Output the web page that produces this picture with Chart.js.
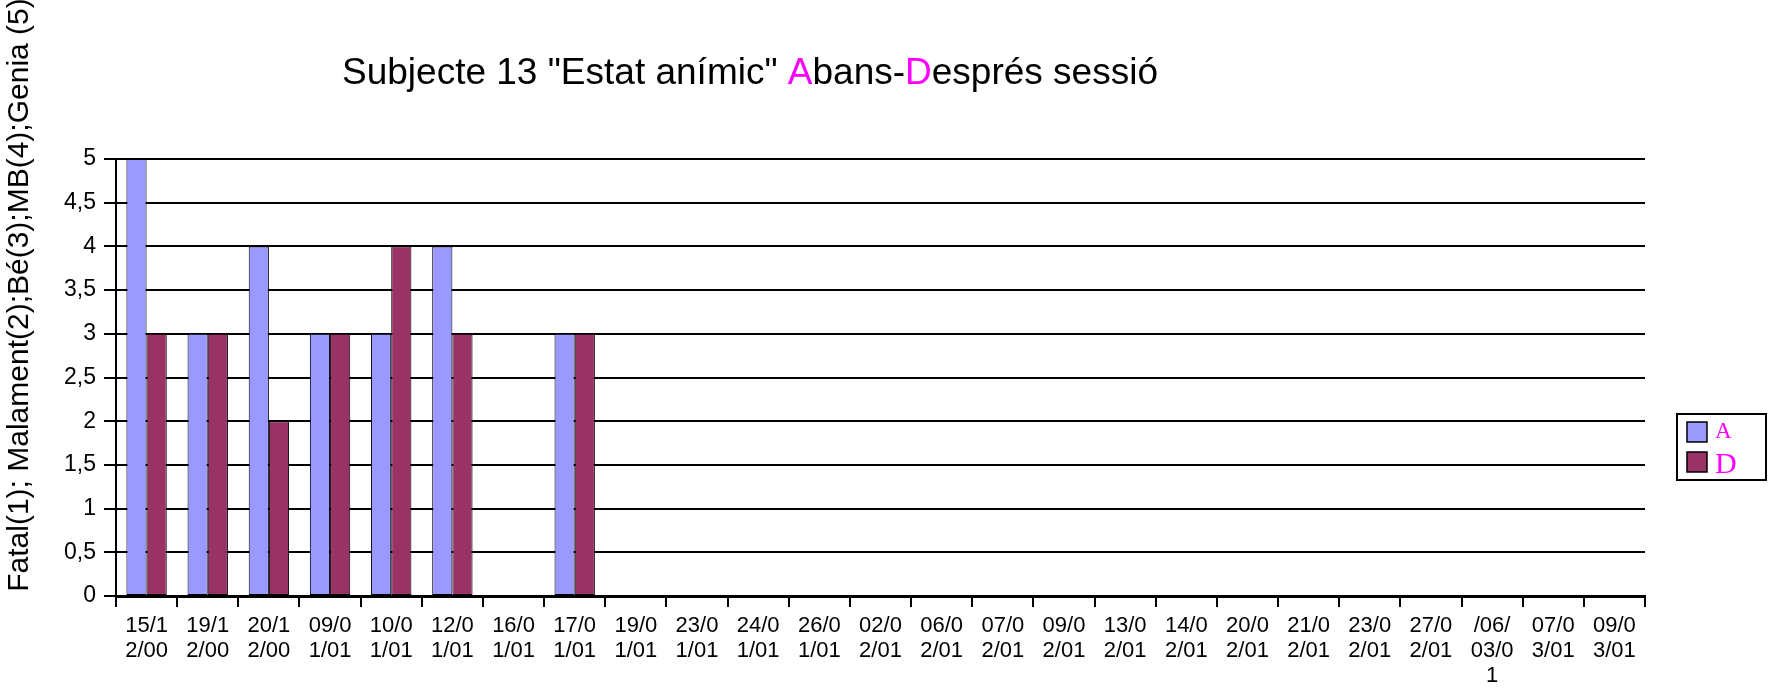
<!DOCTYPE html>
<html>
<head>
<meta charset="utf-8">
<script src="https://cdn.jsdelivr.net/npm/chart.js@4/dist/chart.umd.min.js"></script>
<style>
  html, body { margin: 0; padding: 0; background: #ffffff; }
  #wrap { width: 1769px; height: 688px; position: relative; }
</style>
</head>
<body>
<div id="wrap"><canvas id="c" width="1769" height="688"></canvas></div>
<script>
const categories = ['15/12/00','19/12/00','20/12/00','09/01/01','10/01/01','12/01/01','16/01/01','17/01/01',
  '19/01/01','23/01/01','24/01/01','26/01/01','02/02/01','06/02/01','07/02/01','09/02/01','13/02/01',
  '14/02/01','20/02/01','21/02/01','23/02/01','27/02/01','/06/03/01','07/03/01','09/03/01'];
const seriesA = [5, 3, 4, 3, 3, 4, 0, 3, 0, 0, 0, 0, 0, 0, 0, 0, 0, 0, 0, 0, 0, 0, 0, 0, 0];
const seriesD = [3, 3, 2, 3, 4, 3, 0, 3, 0, 0, 0, 0, 0, 0, 0, 0, 0, 0, 0, 0, 0, 0, 0, 0, 0];
const seriesNames = ['A', 'D'];
const yTicks = { min: 0, max: 5, step: 0.5 };
const titleParts = [
  ['Subjecte 13 "Estat anímic" ', '#000000'],
  ['A', '#FF00FF'],
  ['bans-', '#000000'],
  ['D', '#FF00FF'],
  ['esprés sessió', '#000000']
];
const yTitle = 'Fatal(1); Malament(2);Bé(3);MB(4);Genia (5)';

const SANS = '"Liberation Sans", Arial, sans-serif';
const SERIF = '"Liberation Serif", "Times New Roman", serif';

const decorPlugin = {
  id: 'decor',
  afterDraw(chart) {
    const ctx = chart.ctx;
    ctx.save();
    // Title with coloured letters
    ctx.font = '37px ' + SANS;
    ctx.textBaseline = 'alphabetic';
    ctx.textAlign = 'left';
    let total = 0;
    titleParts.forEach(p => { total += ctx.measureText(p[0]).width; });
    let x = 750 - total / 2;
    titleParts.forEach(p => {
      ctx.fillStyle = p[1];
      ctx.fillText(p[0], x, 84);
      x += ctx.measureText(p[0]).width;
    });
    // Y axis title
    ctx.save();
    ctx.translate(20, 295);
    ctx.rotate(-Math.PI / 2);
    ctx.font = '30px ' + SANS;
    ctx.fillStyle = '#000000';
    ctx.textAlign = 'center';
    ctx.textBaseline = 'middle';
    ctx.fillText(yTitle, 0, 0);
    ctx.restore();
    // Legend
    ctx.lineWidth = 2;
    ctx.strokeStyle = '#000000';
    ctx.fillStyle = '#ffffff';
    ctx.fillRect(1677, 414, 89, 66);
    ctx.strokeRect(1677, 414, 89, 66);
    const sizes = [23, 30];
    const baselines = [438, 473];
    chart.data.datasets.forEach((ds, i) => {
      const sy = 422 + i * 30;
      ctx.fillStyle = ds.backgroundColor;
      ctx.fillRect(1687, sy, 20, 20);
      ctx.lineWidth = 1.5;
      ctx.strokeRect(1687, sy, 20, 20);
      ctx.fillStyle = '#FF00FF';
      ctx.font = sizes[i] + 'px ' + SERIF;
      ctx.textAlign = 'left';
      ctx.textBaseline = 'alphabetic';
      ctx.fillText(ds.label, 1715, baselines[i]);
    });
    ctx.restore();
  }
};

new Chart(document.getElementById('c'), {
  type: 'bar',
  data: {
    labels: categories,
    datasets: [
      { label: seriesNames[0], data: seriesA, backgroundColor: '#9999FF', borderColor: '#000000', borderWidth: 1, borderSkipped: false },
      { label: seriesNames[1], data: seriesD, backgroundColor: '#993366', borderColor: '#000000', borderWidth: 1, borderSkipped: false }
    ]
  },
  options: {
    responsive: false,
    animation: false,
    devicePixelRatio: 1,
    layout: { padding: { left: 0, top: 159, right: 124, bottom: 0 } },
    plugins: { legend: { display: false }, title: { display: false }, tooltip: { enabled: false } },
    datasets: { bar: { categoryPercentage: 0.66, barPercentage: 1.0 } },
    scales: {
      x: {
        afterFit(scale) { scale.height = 92; },
        grid: { display: true, drawOnChartArea: false, drawTicks: true, tickLength: 11, color: '#000000', lineWidth: 2, offset: true },
        border: { display: true, color: '#000000', width: 3 },
        ticks: {
          color: '#000000',
          font: { family: SANS, size: 22, lineHeight: 1.15 },
          padding: 6,
          maxRotation: 0,
          minRotation: 0,
          autoSkip: false,
          callback(value) {
            const s = categories[value];
            const out = [];
            for (let i = 0; i < s.length; i += 4) out.push(s.slice(i, i + 4));
            return out;
          }
        }
      },
      y: {
        min: yTicks.min,
        max: yTicks.max,
        afterFit(scale) { scale.width = 116; },
        grid: { color: '#000000', lineWidth: 2, drawTicks: true, tickLength: 12 },
        border: { display: true, color: '#000000', width: 2 },
        ticks: {
          stepSize: yTicks.step,
          color: '#000000',
          font: { family: SANS, size: 23 },
          padding: 8,
          callback(v) { return String(v).replace('.', ','); }
        }
      }
    }
  },
  plugins: [decorPlugin]
});
</script>
</body>
</html>
